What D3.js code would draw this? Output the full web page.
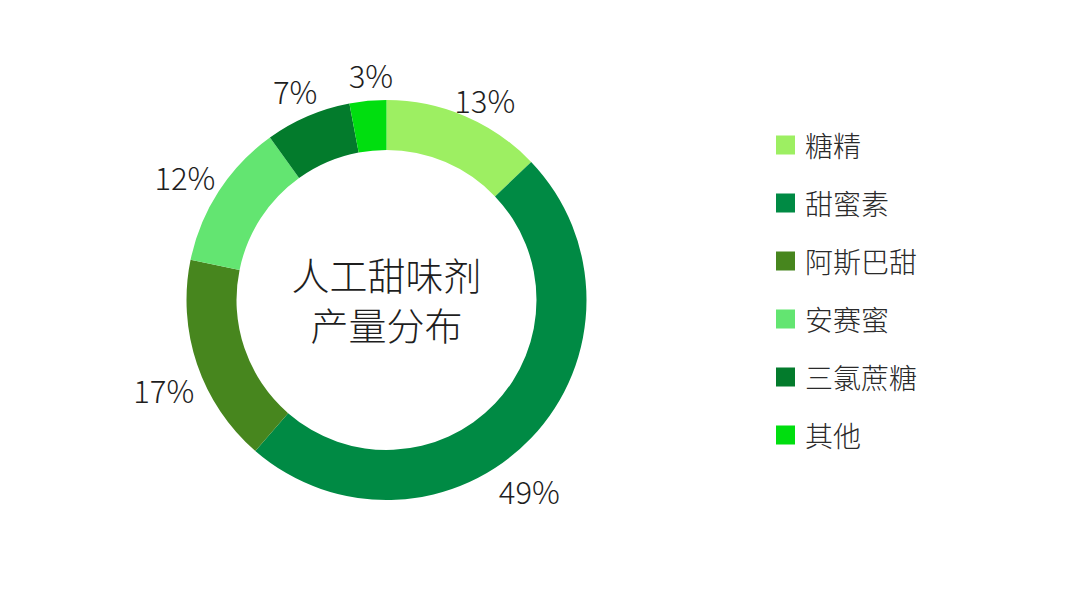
<!DOCTYPE html>
<html>
<head>
<meta charset="utf-8">
<script src="https://cdn.jsdelivr.net/npm/d3@7"></script>
<style>
  body { margin: 0; background: #fff; }
  text { font-family: "Noto Sans CJK SC", "Noto Sans", sans-serif; font-weight: 200; fill: #1e1e1e; }
</style>
</head>
<body>
<svg id="canvas"></svg>
<script>
const names = ['糖精', '甜蜜素', '阿斯巴甜', '安赛蜜', '三氯蔗糖', '其他']
const shares = [13, 49, 17, 12, 7, 3]
const colors = ['#9def62', '#008a44', '#47861e', '#63e571', '#037b2c', '#00de0f']
const title = ['人工甜味剂', '产量分布']

// small hand nudges so labels sit where the original tool put them
const labelNudge = [[7, 13], [-25, 30], [-3, 15], [-7, 3], [0, 4], [6, 5]]

let width = 1080,
height = 599

let canvas = d3.select('#canvas')
.attr('width', width)
.attr('height', height)

let cx = 386.5, cy = 300
let outerR = 200, innerR = 150

let pie = d3.pie().sort(null).value(d => d.value)
let arc = d3.arc().innerRadius(innerR).outerRadius(outerR)

let slices = pie(names.map((n, i) => ({name: n, value: shares[i], color: colors[i]})))

let g = canvas.append('g').attr('transform', `translate(${cx},${cy})`)

g.selectAll('path')
.data(slices)
.enter().append('path')
.attr('d', arc)
.attr('fill', d => d.data.color)

// labels outside the ring, along the middle of each slice
let labelR = 232
g.selectAll('text.pct')
.data(slices)
.enter().append('text')
.attr('class', 'pct')
.attr('x', (d, i) => Math.sin((d.startAngle + d.endAngle) / 2) * labelR + labelNudge[i][0])
.attr('y', (d, i) => -Math.cos((d.startAngle + d.endAngle) / 2) * labelR + labelNudge[i][1])
.attr('text-anchor', 'middle')
.attr('dominant-baseline', 'central')
.style('font-size', '31px')
.text(d => d.data.value + '%')

g.selectAll('text.title')
.data(title)
.enter().append('text')
.attr('class', 'title')
.attr('x', 0)
.attr('y', (d, i) => -27 + i * 50)
.attr('text-anchor', 'middle')
.attr('dominant-baseline', 'central')
.style('font-size', '38px')
.text(d => d)

// legend
let legendY = d3.scalePoint().domain(names).range([145, 435])

let legend = canvas.selectAll('g.legend')
.data(slices)
.enter().append('g')
.attr('class', 'legend')
.attr('transform', d => `translate(776,${legendY(d.data.name)})`)

legend.append('rect')
.attr('x', 0)
.attr('y', -9.5)
.attr('width', 19)
.attr('height', 19)
.attr('fill', d => d.data.color)

legend.append('text')
.attr('x', 29)
.attr('y', 0)
.attr('dominant-baseline', 'central')
.style('font-size', '28px')
.style('fill', '#2a2a2a')
.text(d => d.data.name)
</script>
</body>
</html>
